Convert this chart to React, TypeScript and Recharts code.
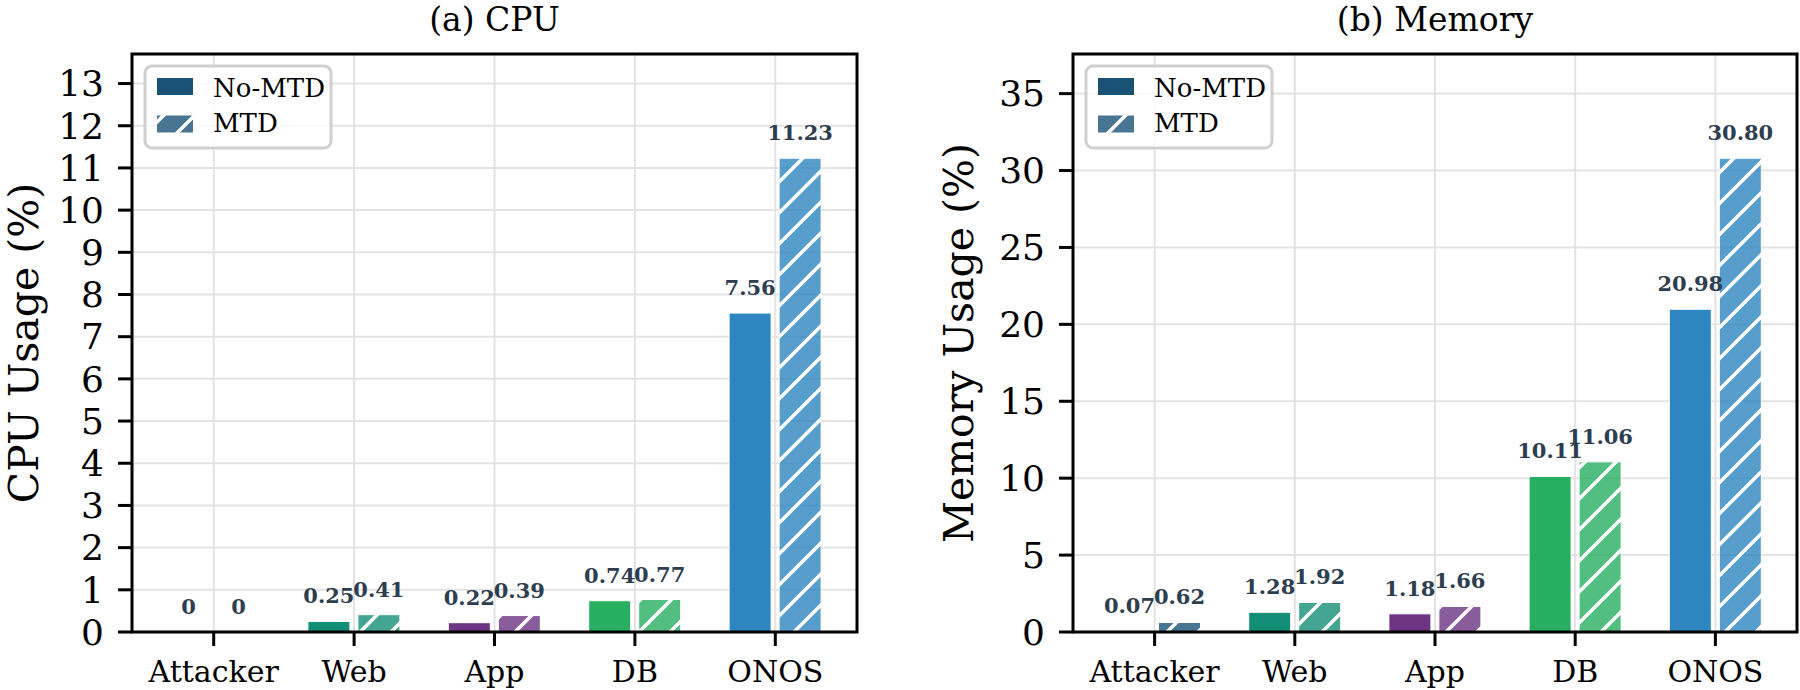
import React from "react";
import { BarChart, Bar, XAxis, YAxis, CartesianGrid, Cell, LabelList } from "recharts";

const CATEGORIES = ["Attacker", "Web", "App", "DB", "ONOS"];
const SERIES = ["No-MTD", "MTD"];

const CPU_NO_MTD = [0, 0.25, 0.22, 0.74, 7.56];
const CPU_MTD = [0, 0.41, 0.39, 0.77, 11.23];
const CPU_TICKS = [0, 1, 2, 3, 4, 5, 6, 7, 8, 9, 10, 11, 12, 13];

const MEM_NO_MTD = [0.07, 1.28, 1.18, 10.11, 20.98];
const MEM_MTD = [0.62, 1.92, 1.66, 11.06, 30.8];
const MEM_TICKS = [0, 5, 10, 15, 20, 25, 30, 35];

const COLORS = ["#1a5276", "#148f77", "#6c3483", "#27ae60", "#2e86c1"];
const SERIF = "'DejaVu Serif', serif";

const W = 900;
const H = 690;
const TOP = 54;
const X_AXIS_H = 58;

interface PanelProps {
  id: string;
  left: number;
  title: string;
  yLabel: string;
  noMtd: number[];
  mtd: number[];
  ticks: number[];
  yAxisWidth: number;
  marginRight: number;
}

const fmt = (v: any) => (Number(v) === 0 ? "0" : Number(v).toFixed(2));

function Hatch({ id, color }: { id: string; color: string }) {
  return (
    <pattern id={id} patternUnits="userSpaceOnUse" width={31} height={31}>
      <rect width={31} height={31} fill={color} fillOpacity={0.8} />
      <path d="M0,31 L31,0 M-8,8 L8,-8 M23,39 L39,23" stroke="#fff" strokeWidth={3.5} />
    </pattern>
  );
}

function Panel({ id, left, title, yLabel, noMtd, mtd, ticks, yAxisWidth, marginRight }: PanelProps) {
  const data = CATEGORIES.map((name, i) => ({ name, noMtd: noMtd[i], mtd: mtd[i] }));
  const yMax = Math.max(...mtd, ...noMtd) * 1.22;
  const plotLeft = yAxisWidth;
  const plotRight = W - marginRight;
  const plotBottom = H - X_AXIS_H;
  const cx = (plotLeft + plotRight) / 2;
  const lx = plotLeft + 13;
  const ylx = Math.max(plotLeft - 100, 38);
  const yly = (TOP + plotBottom) / 2;

  const labelProps = {
    position: "top" as const,
    offset: 18,
    formatter: fmt,
    fill: "#2c3e50",
    fontSize: 21,
    fontWeight: "bold",
    fontFamily: SERIF,
  };

  return (
    <div style={{ position: "absolute", left, top: 0, width: W, height: H }}>
      <BarChart
        width={W}
        height={H}
        data={data}
        margin={{ top: TOP, right: marginRight, bottom: 0, left: 0 }}
        barSize={42}
        barGap={8}
      >
        <defs>
          {COLORS.map((c, i) => (
            <Hatch key={i} id={`${id}-hatch-${i}`} color={c} />
          ))}
        </defs>
        <CartesianGrid stroke="#e3e3e3" strokeWidth={2} />
        <XAxis
          dataKey="name"
          interval={0}
          height={X_AXIS_H}
          padding={{ left: 11.5, right: 11.5 }}
          axisLine={false}
          stroke="#000"
          tickLine={{ stroke: "#000", strokeWidth: 3 }}
          tickSize={14}
          tickMargin={15}
          tick={{ fontSize: 30, fontFamily: SERIF, fill: "#000" }}
        />
        <YAxis
          type="number"
          domain={[0, yMax]}
          ticks={ticks}
          interval={0}
          width={yAxisWidth}
          axisLine={false}
          stroke="#000"
          tickLine={{ stroke: "#000", strokeWidth: 3 }}
          tickSize={14}
          tickMargin={14}
          tick={{ fontSize: 36, fontFamily: SERIF, fill: "#000" }}
        />
        <Bar
          dataKey="noMtd"
          name={SERIES[0]}
          stroke="#fff"
          strokeWidth={1}
          minPointSize={0.01}
          isAnimationActive={false}
        >
          {data.map((_, i) => (
            <Cell key={i} fill={COLORS[i]} />
          ))}
          <LabelList dataKey="noMtd" {...labelProps} />
        </Bar>
        <Bar
          dataKey="mtd"
          name={SERIES[1]}
          stroke="#fff"
          strokeWidth={1}
          minPointSize={0.01}
          isAnimationActive={false}
        >
          {data.map((_, i) => (
            <Cell key={i} fill={`url(#${id}-hatch-${i})`} />
          ))}
          <LabelList dataKey="mtd" {...labelProps} />
        </Bar>
      </BarChart>
      <svg
        width={W}
        height={H}
        style={{ position: "absolute", left: 0, top: 0, pointerEvents: "none" }}
      >
        <defs>
          <Hatch id={`${id}-leg`} color={COLORS[0]} />
        </defs>
        <rect
          x={plotLeft}
          y={TOP}
          width={plotRight - plotLeft}
          height={plotBottom - TOP}
          fill="none"
          stroke="#000"
          strokeWidth={3}
        />
        <text x={cx} y={31} textAnchor="middle" fontSize={33} fontFamily={SERIF} fill="#000">
          {title}
        </text>
        <text
          x={ylx}
          y={yly}
          textAnchor="middle"
          fontSize={41}
          fontFamily={SERIF}
          fill="#000"
          transform={`rotate(-90, ${ylx}, ${yly})`}
        >
          {yLabel}
        </text>
        <rect x={lx} y={66} width={186} height={82} rx={7} fill="#fff" fillOpacity={0.85} stroke="#cfcfcf" strokeWidth={3} />
        <rect x={lx + 12} y={78} width={36} height={17} fill={COLORS[0]} />
        <rect x={lx + 12} y={115.5} width={36} height={17} fill={`url(#${id}-leg)`} />
        <text x={lx + 68} y={97} fontSize={26} fontFamily={SERIF} fill="#000">
          {SERIES[0]}
        </text>
        <text x={lx + 68} y={132} fontSize={26} fontFamily={SERIF} fill="#000">
          {SERIES[1]}
        </text>
      </svg>
    </div>
  );
}

export default function App() {
  return (
    <div style={{ position: "absolute", left: 0, top: 0, width: 1800, height: 690, background: "#fff" }}>
      <Panel
        id="cpu"
        left={0}
        title="(a) CPU"
        yLabel="CPU Usage (%)"
        noMtd={CPU_NO_MTD}
        mtd={CPU_MTD}
        ticks={CPU_TICKS}
        yAxisWidth={132}
        marginRight={43}
      />
      <Panel
        id="mem"
        left={900}
        title="(b) Memory"
        yLabel="Memory Usage (%)"
        noMtd={MEM_NO_MTD}
        mtd={MEM_MTD}
        ticks={MEM_TICKS}
        yAxisWidth={173}
        marginRight={3}
      />
    </div>
  );
}
